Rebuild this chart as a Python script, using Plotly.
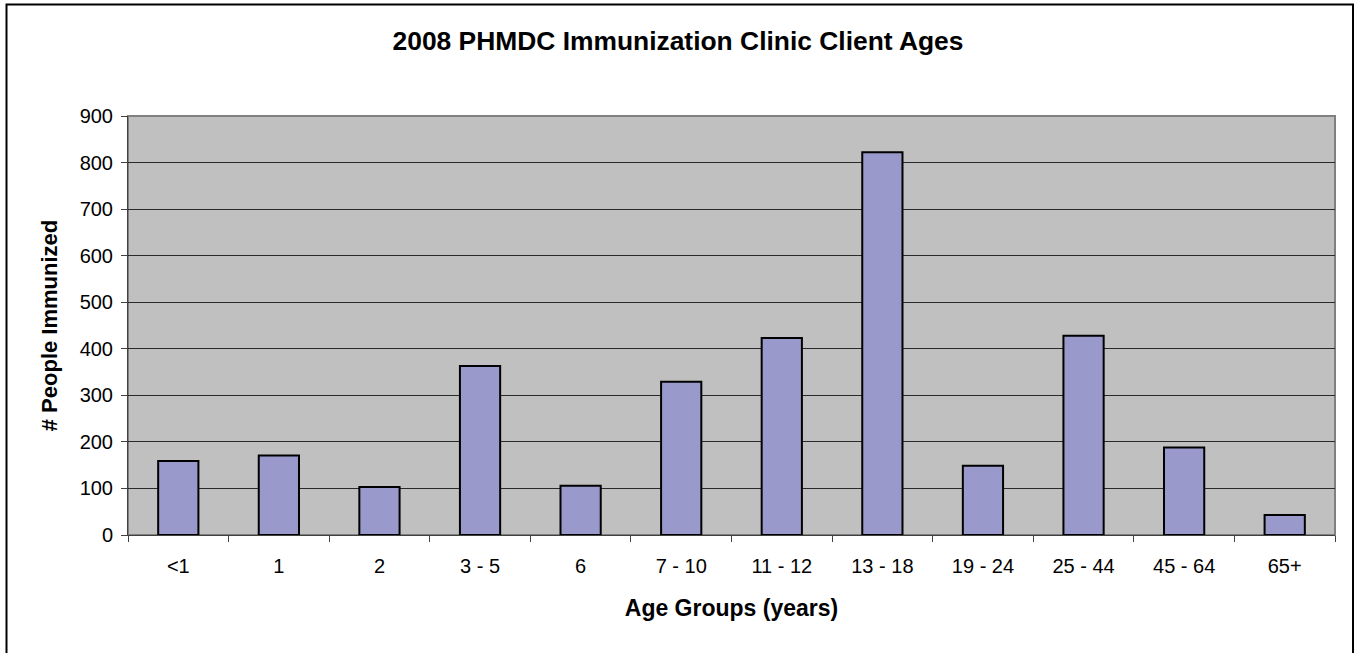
import plotly.graph_objects as go

categories = ["<1", "1", "2", "3 - 5", "6", "7 - 10", "11 - 12", "13 - 18",
              "19 - 24", "25 - 44", "45 - 64", "65+"]
people_immunized = [159, 171, 103, 363, 106, 329, 423, 822, 149, 428, 188, 43]
y_tick_values = [0, 100, 200, 300, 400, 500, 600, 700, 800, 900]

W, H = 1356, 653
L, R, T, B = 128, 21, 116, 118
pw, ph = W - L - R, H - T - B

def px_x(x):
    return (x - L) / pw

def px_y(y):
    return (H - B - y) / ph

FONT = "Liberation Sans, Arial, sans-serif"

fig = go.Figure(
    go.Bar(
        x=categories,
        y=people_immunized,
        marker=dict(color="#9999CC", line=dict(color="#000000", width=2)),
    )
)

fig.update_layout(
    width=W,
    height=H,
    margin=dict(l=L, r=R, t=T, b=B),
    paper_bgcolor="#FFFFFF",
    plot_bgcolor="#C0C0C0",
    bargap=0.6,
    showlegend=False,
    font=dict(family=FONT, color="#000000", size=20),
    title=dict(
        text="<b>2008 PHMDC Immunization Clinic Client Ages</b>",
        x=0.5, xanchor="center", xref="container",
        y=1 - 41 / H, yanchor="middle", yref="container",
        font=dict(family=FONT, size=26.4, color="#000000"),
    ),
    xaxis=dict(
        type="category",
        showgrid=False,
        showline=True, linecolor="#404040", linewidth=1,
        ticks="outside", tickson="boundaries", ticklen=6, tickcolor="#404040",
        tickfont=dict(family=FONT, size=20, color="#000000"),
        ticklabelstandoff=13,
        title=dict(text="<b>Age Groups (years)</b>", standoff=23,
                   font=dict(family=FONT, size=23, color="#000000")),
    ),
    yaxis=dict(
        range=[0, 900],
        tickvals=y_tick_values,
        showgrid=True, gridcolor="#2a2a2a", gridwidth=1,
        zeroline=False,
        showline=True, linecolor="#404040", linewidth=1,
        ticks="outside", ticklen=6, tickcolor="#404040",
        tickfont=dict(family=FONT, size=20, color="#000000"),
        ticklabelstandoff=4,
        title=dict(text="<b># People Immunized</b>", standoff=15,
                   font=dict(family=FONT, size=22, color="#000000")),
    ),
    shapes=[
        # plot area border
        dict(type="rect", xref="paper", yref="paper", x0=0, x1=1, y0=0, y1=1,
             line=dict(color="#808080", width=2), layer="below"),
        # outer chart border
        dict(type="rect", xref="paper", yref="paper",
             x0=px_x(6.5), x1=px_x(1353), y0=px_y(670), y1=px_y(4.5),
             line=dict(color="#000000", width=2), layer="above"),
    ],
)

fig.write_html("out.html", config={"displayModeBar": False},
               post_script="document.body.style.margin='0';")
